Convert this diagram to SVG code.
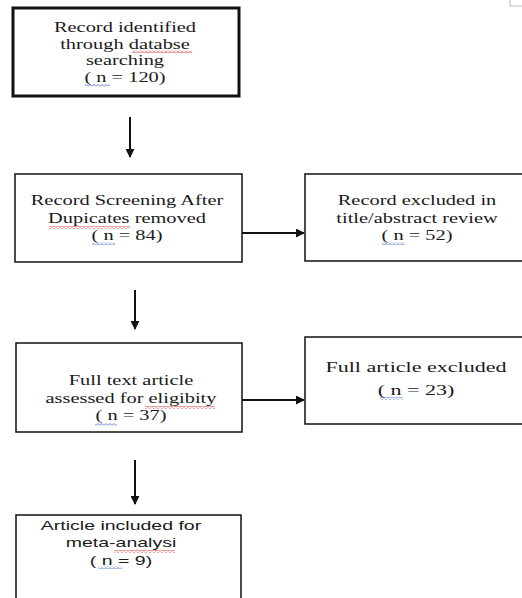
<svg xmlns="http://www.w3.org/2000/svg" width="522" height="598" viewBox="0 0 522 598">
<style>
.box{fill:#fff;stroke:#111;stroke-width:1.5}
.thick{stroke-width:3}
.t{font-family:"Liberation Serif","Times New Roman",serif;font-size:15px;fill:#1a1a1a;text-anchor:middle}
.s{font-family:"Liberation Sans",Arial,sans-serif;font-size:13px;fill:#1a1a1a;text-anchor:middle}
.ln{stroke:#111;stroke-width:2;fill:none}
</style>
<defs>
<marker id="ah" viewBox="0 0 10 10" refX="9" refY="5" markerWidth="4.5" markerHeight="4.5" orient="auto" markerUnits="strokeWidth">
<path d="M0 0 L10 5 L0 10 z" fill="#111"/>
</marker>
<pattern id="wr" patternUnits="userSpaceOnUse" width="4" height="3"><path d="M0 2.5 L2 0.5 L4 2.5" stroke="#d22" stroke-width="0.9" fill="none"/></pattern>
<pattern id="wb" patternUnits="userSpaceOnUse" width="4" height="3"><path d="M0 2.5 L2 0.5 L4 2.5" stroke="#4a6fc9" stroke-width="0.9" fill="none"/></pattern>
</defs>
<rect width="522" height="598" fill="#fff"/>
<path d="M510 0 V6 H522" fill="none" stroke="#bbb" stroke-width="1"/>

<g id="connectors">
<line class="ln" x1="130" y1="117" x2="130" y2="157" marker-end="url(#ah)"/>
<line class="ln" x1="242" y1="233" x2="304" y2="233" marker-end="url(#ah)"/>
<line class="ln" x1="135" y1="290" x2="135" y2="329" marker-end="url(#ah)"/>
<line class="ln" x1="242" y1="400" x2="304" y2="400" marker-end="url(#ah)"/>
<line class="ln" x1="135" y1="460" x2="135" y2="504" marker-end="url(#ah)"/>
</g>

<g id="n1">
<rect class="box thick" x="13" y="8" width="226" height="88"/>
<g transform="translate(125,0) scale(1.36,1)">
<text class="t" x="0" y="32">Record identified</text>
<text class="t" x="0" y="49">through databse</text>
<text class="t" x="0" y="65">searching</text>
<text class="t" x="0" y="82">( n = 120)</text>
</g>
<rect x="132" y="50" width="60" height="3" fill="url(#wr)"/>
<rect x="85" y="84" width="25" height="3" fill="url(#wb)"/>
</g>

<g id="n2">
<rect class="box" x="15" y="174" width="227" height="88"/>
<g transform="translate(127,0) scale(1.36,1)">
<text class="t" x="0" y="205">Record Screening After</text>
<text class="t" x="0" y="223">Dupicates removed</text>
<text class="t" x="0" y="240">( n = 84)</text>
</g>
<rect x="49" y="226" width="81" height="3" fill="url(#wr)"/>
<rect x="92" y="242" width="23" height="3" fill="url(#wb)"/>
</g>

<g id="n3">
<rect class="box" x="305" y="174" width="222" height="87"/>
<g transform="translate(417,0) scale(1.36,1)">
<text class="t" x="0" y="205">Record excluded in</text>
<text class="t" x="0" y="223">title/abstract review</text>
<text class="t" x="0" y="240">( n = 52)</text>
</g>
<rect x="382" y="242" width="23" height="3" fill="url(#wb)"/>
</g>

<g id="n4">
<rect class="box" x="16" y="343" width="226" height="89"/>
<g transform="translate(131,0) scale(1.36,1)">
<text class="t" x="0" y="385">Full text article</text>
<text class="t" x="0" y="403">assessed for eligibity</text>
<text class="t" x="0" y="420">( n = 37)</text>
</g>
<rect x="145" y="406" width="70" height="3" fill="url(#wr)"/>
<rect x="95" y="423" width="22" height="3" fill="url(#wb)"/>
</g>

<g id="n5">
<rect class="box" x="305" y="337" width="222" height="87"/>
<g transform="translate(416,0) scale(1.47,1)">
<text class="t" x="0" y="372">Full article excluded</text>
<text class="t" x="0" y="395">( n = 23)</text>
</g>
<rect x="380" y="397" width="23" height="3" fill="url(#wb)"/>
</g>

<g id="n6">
<rect class="box" x="16" y="515" width="225" height="90"/>
<g transform="translate(121,0) scale(1.5,1)">
<text class="s" x="0" y="530">Article included for</text>
<text class="s" x="0" y="547">meta-analysi</text>
<text class="s" x="0" y="565">( n = 9)</text>
</g>
<rect x="114" y="550" width="61" height="3" fill="url(#wr)"/>
<rect x="98" y="566" width="24" height="3" fill="url(#wb)"/>
</g>
</svg>
